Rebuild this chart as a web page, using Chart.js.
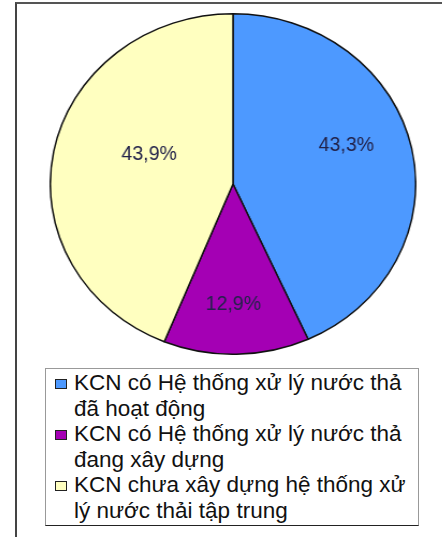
<!DOCTYPE html>
<html lang="vi">
<head>
    <meta charset="UTF-8">
    <title>KCN - hệ thống xử lý nước thải</title>
    <script src="https://cdn.jsdelivr.net/npm/chart.js"></script>
    <style>
        body { margin: 0; background: #fff; font-family: "Liberation Sans", Arial, sans-serif; }
        .frame { position: absolute; left: 15px; top: 2px; width: 440px; height: 540px;
                 border-top: 2px solid #555; border-left: 2px solid #444; }
        .pie-wrap { position: absolute; left: 62px; top: 13px; width: 342px; height: 342px;
                    transform: scaleX(1.073); transform-origin: 50% 50%; }
        #legend { position: absolute; left: 45px; top: 368px; width: 372px; height: 156px;
                  border: 1px solid #999; border-bottom-color: #222; background: #fff; }
        #legend .inner { padding-top: 1px; }
        .item { position: relative; padding-left: 28px; font-size: 22.5px; line-height: 25.5px; color: #111; white-space: nowrap; }
        .box { position: absolute; left: 9px; top: 9px; width: 10px; height: 8px; border: 1px solid #222; }
    </style>
</head>
<body>
    <div class="frame"></div>
    <div class="pie-wrap"><canvas id="pie"></canvas></div>
    <div id="legend"><div class="inner"></div></div>

    <script>
        // data
        const categories = [
            ['KCN có Hệ thống xử lý nước thả', 'đã hoạt động'],
            ['KCN có Hệ thống xử lý nước thả', 'đang xây dựng'],
            ['KCN chưa xây dựng hệ thống xử', 'lý nước thải tập trung']
        ];
        const shares = [43.3, 12.9, 43.9];
        const shareLabels = ['43,3%', '12,9%', '43,9%'];

        const colors = ['#4d99ff', '#a400b4', '#ffffc0'];
        // where each label sits inside its slice (fraction of the sweep, fraction of the radius)
        const labelSweep = [0.45, 0.52, 0.56];
        const labelRadius = [0.66, 0.71, 0.49];

        const stretch = 1.073;

        // percentage text inside the slices
        const sliceLabels = {
            id: 'sliceLabels',
            afterDatasetsDraw(chart) {
                const ctx = chart.ctx;
                const arcs = chart.getDatasetMeta(0).data;
                ctx.save();
                ctx.font = '19.5px "Liberation Sans", Arial, sans-serif';
                ctx.fillStyle = '#22224a';
                ctx.textAlign = 'center';
                ctx.textBaseline = 'middle';
                arcs.forEach((arc, i) => {
                    const p = arc.getProps(['x', 'y', 'startAngle', 'endAngle', 'outerRadius'], true);
                    const a = p.startAngle + (p.endAngle - p.startAngle) * labelSweep[i];
                    const r = p.outerRadius * labelRadius[i];
                    ctx.save();
                    ctx.translate(p.x + Math.cos(a) * r, p.y + Math.sin(a) * r);
                    // undo the horizontal stretch of the wrapper for the text
                    ctx.scale(1 / stretch, 1);
                    ctx.fillText(shareLabels[i], 0, 0);
                    ctx.restore();
                });
                ctx.restore();
            }
        };

        new Chart(document.getElementById('pie'), {
            type: 'pie',
            data: {
                labels: categories,
                datasets: [{
                    data: shares,
                    backgroundColor: colors,
                    borderColor: '#111',
                    borderWidth: 1.5
                }]
            },
            options: {
                responsive: true,
                maintainAspectRatio: false,
                animation: false,
                layout: { padding: 0 },
                plugins: {
                    legend: { display: false },
                    tooltip: { enabled: false }
                }
            },
            plugins: [sliceLabels]
        });

        // legend box under the pie, lines wrapped like the original
        const legend = document.querySelector('#legend .inner');
        categories.forEach((lines, i) => {
            const item = document.createElement('div');
            item.className = 'item';
            item.innerHTML = '<span class="box" style="background:' + colors[i] + '"></span>' + lines.join('<br>');
            legend.appendChild(item);
        });
    </script>
</body>
</html>
